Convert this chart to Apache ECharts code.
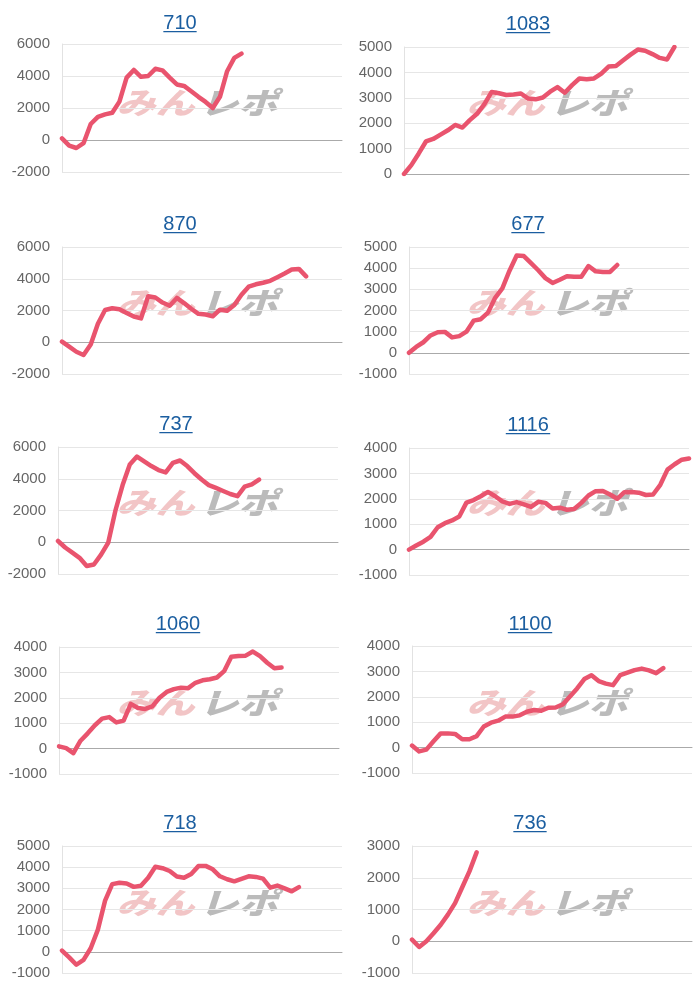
<!DOCTYPE html>
<html>
<head>
<meta charset="utf-8">
<script src="https://cdn.jsdelivr.net/npm/echarts@6/dist/echarts.min.js"></script>
<style>
html, body { margin: 0; padding: 0; background: #fff; }
#main { width: 700px; height: 1000px; }
</style>
</head>
<body>
<div id="main"></div>
<script>
// x slots (hidden category axis)
var slots = [1,2,3,4,5,6,7,8,9,10,11,12,13,14,15,16,17,18,19,20,
             21,22,23,24,25,26,27,28,29,30,31,32,33,34,35,36,37,38,39,40];

var names = ['710', '1083', '870', '677', '737', '1116', '1060', '1100', '718', '736'];

var s710  = [100,-350,-500,-200,1000,1450,1600,1700,2400,3900,4380,3950,4000,4450,4350,3900,
             3470,3380,3050,2700,2380,2000,2700,4300,5130,5400];
var s1083 = [0,350,800,1280,1380,1550,1720,1930,1830,2120,2370,2750,3230,3180,3110,3130,3170,
             2970,2940,3010,3240,3420,3200,3500,3760,3730,3760,3950,4230,4250,4480,4700,4900,
             4850,4720,4570,4510,5000];
var s870  = [40,-280,-600,-800,-140,1160,2030,2140,2080,1850,1620,1500,2900,2820,2500,2300,2790,
             2470,2110,1790,1750,1640,2050,1980,2350,2990,3500,3650,3750,3870,4100,4330,4580,
             4620,4150];
var s677  = [0,280,500,820,970,990,730,790,1000,1520,1590,1900,2600,3050,3880,4600,4570,4240,
             3900,3530,3300,3450,3620,3600,3590,4100,3850,3820,3820,4150];
var s737  = [80,-330,-650,-980,-1500,-1400,-780,-20,2000,3600,4900,5400,5100,4800,4550,4400,
             5000,5150,4800,4350,3950,3600,3420,3230,3040,2900,3500,3650,3950];
var s1116 = [0,160,310,500,880,1040,1150,1300,1850,1950,2100,2270,2100,1900,1800,1870,1780,
             1680,1880,1840,1620,1650,1570,1600,1840,2130,2300,2310,2170,2000,2260,2270,2240,
             2150,2170,2550,3150,3360,3540,3590];
var s1060 = [90,20,-180,310,600,920,1180,1240,1030,1100,1760,1600,1560,1660,2000,2230,2340,
             2400,2380,2590,2690,2730,2800,3050,3620,3650,3660,3820,3640,3380,3160,3190];
var s1100 = [80,-150,-80,250,560,560,540,330,330,450,830,980,1060,1220,1220,1270,1410,1480,
             1450,1570,1580,1700,2010,2330,2700,2850,2620,2520,2460,2850,2950,3050,3110,3040,
             2930,3130];
var s718  = [60,-260,-610,-380,170,1050,2420,3200,3260,3230,3070,3120,3500,4020,3950,3820,
             3560,3500,3680,4050,4060,3900,3570,3430,3330,3450,3570,3540,3460,3030,3130,3000,
             2860,3060];
var s736  = [50,-180,0,250,520,840,1200,1700,2200,2800];

var values = [s710, s1083, s870, s677, s737, s1116, s1060, s1100, s718, s736];

var yMin  = [-2000, 0, -2000, -1000, -2000, -1000, -1000, -1000, -1000, -1000];
var yMax  = [6000, 5000, 6000, 5000, 6000, 4000, 4000, 4000, 5000, 3000];
var yStep = [2000, 1000, 2000, 1000, 2000, 1000, 1000, 1000, 1000, 1000];

// plot boxes: left, right, top, bottom (px)
var boxes = [
  [62, 342, 44, 172], [404, 689, 47, 174],
  [62, 342, 247, 374], [409, 689, 247, 374],
  [58, 338, 447, 574], [409, 689, 448, 575],
  [59, 339, 647, 774], [412, 692, 646, 773],
  [62, 342, 846, 973], [412, 692, 846, 973]
];
// title centres
var titlePos = [[180, 23], [528, 24], [180, 224], [528, 224], [176, 424],
                [528, 425], [178, 624], [530, 624], [180, 823], [530, 823]];

var lineColor = '#e9546e';
var titleColor = '#1b5ea0';

var grids = [], xAxes = [], yAxes = [], series = [], graphics = [];

for (var i = 0; i < names.length; i++) {
  var b = boxes[i];
  grids.push({ left: b[0], top: b[2], width: b[1] - b[0], height: b[3] - b[2] });
  xAxes.push({
    type: 'category', gridIndex: i, data: slots, boundaryGap: false,
    axisLine: { show: true, onZero: true, lineStyle: { color: '#aaaaaa', width: 1 } },
    axisTick: { show: false }, axisLabel: { show: false }, splitLine: { show: false }
  });
  yAxes.push({
    type: 'value', gridIndex: i, min: yMin[i], max: yMax[i], interval: yStep[i],
    axisLine: { show: true, lineStyle: { color: '#e2e2e2' } },
    axisTick: { show: false },
    axisLabel: { color: '#666', fontSize: 15, margin: 12, fontFamily: 'Liberation Sans, Arial',
      formatter: function (v) { return String(v); } },
    splitLine: { lineStyle: { color: '#e6e6e6' } }
  });
  series.push({
    type: 'line', xAxisIndex: i, yAxisIndex: i, data: values[i],
    symbol: 'none', smooth: false, z: 3,
    lineStyle: { color: lineColor, width: 4.5, join: 'round', cap: 'round' }
  });

  // watermark
  var colLeft = b[0] < 300 ? 0 : 350;
  var rowTop = Math.floor(b[2] / 200) * 200;
  graphics.push({
    type: 'group', x: colLeft + 197, y: rowTop + 103, scaleX: 1.3, z: 0, silent: true,
    children: [
      { type: 'text', x: -2, y: 0, style: { text: 'みん', fill: 'rgba(232,150,152,0.55)',
        font: 'italic 900 30px "Noto Sans CJK JP"', textAlign: 'right', textVerticalAlign: 'middle' } },
      { type: 'text', x: 2, y: 0, style: { text: 'レポ', fill: 'rgba(150,150,150,0.65)',
        font: 'italic 900 30px "Noto Sans CJK JP"', textAlign: 'left', textVerticalAlign: 'middle' } }
    ]
  });

  // title with underline
  var tp = titlePos[i];
  var tw = names[i].length * 11.1;
  graphics.push({
    type: 'text', x: tp[0], y: tp[1], z: 5,
    style: { text: names[i], fill: titleColor, font: '20px "Liberation Sans", Arial',
      textAlign: 'center', textVerticalAlign: 'middle' }
  });
  graphics.push({
    type: 'rect', z: 5,
    shape: { x: tp[0] - tw / 2, y: tp[1] + 8, width: tw, height: 1.3 },
    style: { fill: titleColor }
  });
}

var myChart = echarts.init(document.getElementById('main'));
var option = {
  animation: false,
  backgroundColor: '#fff',
  grid: grids,
  xAxis: xAxes,
  yAxis: yAxes,
  series: series,
  graphic: graphics
};
myChart.setOption(option);
</script>
</body>
</html>
